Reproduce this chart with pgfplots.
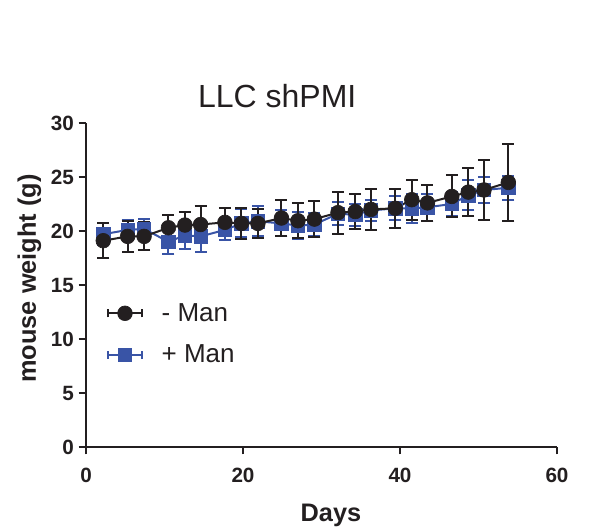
\documentclass[border=0pt]{standalone}
\usepackage{fontspec}
\setmainfont{Liberation Sans}
\usepackage{pgfplots}
\pgfplotsset{compat=1.18}
\definecolor{prismblue}{RGB}{57,84,166}
\definecolor{inkblack}{RGB}{35,31,32}

% days, mean, sem
\pgfplotstableread{
d     y      e
2.2   19.1   1.6
5.3   19.5   1.45
7.4   19.5   1.3
10.5  20.3   1.2
12.6  20.55  1.25
14.6  20.6   1.7
17.7  20.8   1.3
19.8  20.7   1.4
21.9  20.7   1.35
24.9  21.2   1.7
27.0  20.95  1.6
29.1  21.1   1.7
32.1  21.7   1.95
34.3  21.8   1.65
36.3  22.0   1.9
39.4  22.1   1.8
41.5  22.9   1.85
43.5  22.6   1.7
46.6  23.2   1.95
48.7  23.6   2.25
50.7  23.8   2.75
53.8  24.5   3.6
}\minusman

\pgfplotstableread{
d     y      e
2.2   19.7   1.0
5.3   20.1   0.9
7.4   20.2   0.9
10.5  19.0   1.1
12.6  19.6   1.3
14.6  19.5   1.4
17.7  20.1   0.9
19.8  20.7   1.3
21.9  20.9   1.4
24.9  20.7   1.2
27.0  20.5   1.25
29.1  20.6   1.05
32.1  21.6   1.05
34.3  21.5   1.0
36.3  21.9   0.95
39.4  22.1   1.1
41.5  22.1   1.35
43.5  22.2   1.25
46.6  22.5   1.1
48.7  23.3   1.4
50.7  23.8   1.2
53.8  24.0   1.1
}\plusman

\begin{document}
\begin{tikzpicture}
\path[use as bounding box] (-64.5pt,-63pt) rectangle (386.25pt,335.25pt);
\begin{axis}[
  at={(0,0)}, anchor=south west,
  scale only axis,
  width=353.25pt, height=243pt,
  xmin=0, xmax=60, ymin=0, ymax=30,
  axis x line*=bottom, axis y line*=left,
  axis line style={line width=1.5pt, color=inkblack},
  xtick={0,20,40,60}, ytick={0,5,...,30},
  tick align=outside, major tick length=5.5pt,
  tick style={line width=1.5pt, color=inkblack},
  /pgf/number format/assume math mode=true,
  ticklabel style={font=\bfseries\fontsize{15.5}{18}\selectfont, color=inkblack},
  xticklabel style={yshift=-7pt},
  title={LLC shPMI},
  title style={at={(rel axis cs:0.406,1.058)}, anchor=center, font=\fontsize{24}{28}\selectfont, color=inkblack},
  xlabel={Days},
  xlabel style={at={(rel axis cs:0.52,-0.21)}, anchor=center, font=\bfseries\fontsize{19}{22}\selectfont, color=inkblack},
  ylabel={mouse weight (g)},
  ylabel style={at={(rel axis cs:-0.12,0.52)}, anchor=center, rotate=0, font=\bfseries\fontsize{19}{22}\selectfont, color=inkblack},
  legend style={at={(rel axis cs:0.044,0.349)}, anchor=west, draw=none, fill=none,
    font=\fontsize{19.5}{23}\selectfont, row sep=12pt, column sep=12pt, inner sep=0pt,
    text=inkblack},
  legend cell align=left,
  reverse legend,
  legend image code/.code={
    \draw[#1,mark=none] (0pt,0pt) -- (25.5pt,0pt);
    \draw[#1,mark=none] (0pt,-3pt) -- (0pt,3pt) (25.5pt,-3pt) -- (25.5pt,3pt);
    \draw[#1] plot coordinates {(12.75pt,0pt)};
  },
  clip=false,
]
\addplot[color=prismblue, line width=1.5pt, mark=square*, mark size=5pt,
  mark options={solid, fill=prismblue, draw=prismblue, line width=0.5pt},
  error bars/.cd, y dir=both, y explicit,
  error bar style={line width=1.5pt, color=prismblue},
  error mark options={rotate=90, mark size=4.5pt, line width=1.5pt, color=prismblue}]
  table[x=d, y=y, y error=e] {\plusman};
\addlegendentry{+ Man}
\addplot[color=inkblack, line width=1.5pt, mark=*, mark size=5.5pt,
  mark options={solid, fill=inkblack, draw=inkblack, line width=0.5pt},
  error bars/.cd, y dir=both, y explicit,
  error bar style={line width=1.5pt, color=inkblack},
  error mark options={rotate=90, mark size=4.5pt, line width=1.5pt, color=inkblack}]
  table[x=d, y=y, y error=e] {\minusman};
\addlegendentry{- Man}
\end{axis}
\end{tikzpicture}
\end{document}
